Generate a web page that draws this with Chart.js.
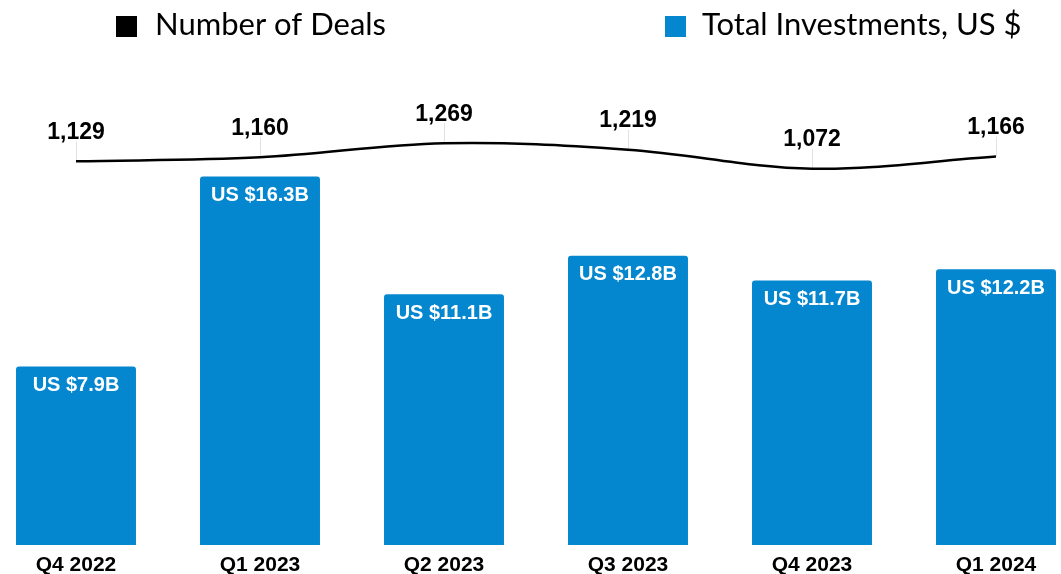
<!DOCTYPE html>
<html><head><meta charset="utf-8">
<script src="https://cdn.jsdelivr.net/npm/chart.js@4.4.1/dist/chart.umd.min.js"></script>
<style>html,body{margin:0;padding:0;background:#fff;overflow:hidden}
#wrap{position:relative;width:1061px;height:574px}</style>
</head><body><div id="wrap"><canvas id="c" width="1061" height="574"></canvas></div>
<script>
const categories = ['Q4 2022', 'Q1 2023', 'Q2 2023', 'Q3 2023', 'Q4 2023', 'Q1 2024'];
const investments = [7.9, 16.3, 11.1, 12.8, 11.7, 12.2];
const investmentLabels = ['US $7.9B', 'US $16.3B', 'US $11.1B', 'US $12.8B', 'US $11.7B', 'US $12.2B'];
const deals = [1129, 1160, 1269, 1219, 1072, 1166];
const dealLabels = ['1,129', '1,160', '1,269', '1,219', '1,072', '1,166'];
const legendLabels = ['Number of Deals', 'Total Investments, US $'];

const BLUE = '#0587D0';
const LABEL_FONT = '"Liberation Sans", Arial, sans-serif';
const LEGEND_FONT = 'Lato, "Noto Sans", sans-serif';

const labelPlugin = {
  id: 'labelPlugin',
  beforeDatasetsDraw(chart) {
    const ctx = chart.ctx;
    const lineMeta = chart.getDatasetMeta(1);
    ctx.save();
    ctx.strokeStyle = '#e2e2e2';
    ctx.lineWidth = 1;
    lineMeta.data.forEach(pt => {
      const x = Math.round(pt.x) + 0.5;
      ctx.beginPath();
      ctx.moveTo(x, pt.y - 20);
      ctx.lineTo(x, pt.y);
      ctx.stroke();
    });
    ctx.restore();
  },
  afterDatasetsDraw(chart) {
    const ctx = chart.ctx;
    const barMeta = chart.getDatasetMeta(0);
    const lineMeta = chart.getDatasetMeta(1);
    ctx.save();
    ctx.textAlign = 'center';
    ctx.textBaseline = 'middle';
    ctx.font = 'bold 20px ' + LABEL_FONT;
    ctx.fillStyle = '#ffffff';
    barMeta.data.forEach((bar, i) => {
      ctx.fillText(investmentLabels[i], bar.x, bar.y + 19);
    });
    ctx.font = 'bold 23px ' + LABEL_FONT;
    ctx.fillStyle = '#000000';
    lineMeta.data.forEach((pt, i) => {
      ctx.fillText(dealLabels[i], pt.x, pt.y - 29);
    });
    ctx.restore();
  },
  afterDraw(chart) {
    const ctx = chart.ctx;
    ctx.save();
    ctx.textAlign = 'left';
    ctx.textBaseline = 'alphabetic';
    ctx.font = '400 31px ' + LEGEND_FONT;
    ctx.fillStyle = '#000000';
    ctx.fillRect(116, 16, 21, 21);
    ctx.fillText(legendLabels[0], 155, 35);
    ctx.fillStyle = BLUE;
    ctx.fillRect(665, 16, 21, 21);
    ctx.fillStyle = '#000000';
    ctx.fillText(legendLabels[1], 702, 35);
    ctx.restore();
  }
};

new Chart(document.getElementById('c'), {
  data: {
    labels: categories,
    datasets: [
      {
        type: 'bar',
        label: legendLabels[1],
        data: investments,
        backgroundColor: BLUE,
        borderRadius: { topLeft: 3, topRight: 3, bottomLeft: 0, bottomRight: 0 },
        borderSkipped: 'bottom',
        categoryPercentage: 1,
        barPercentage: 0.652,
        yAxisID: 'y',
        clip: false,
        order: 1
      },
      {
        type: 'line',
        label: legendLabels[0],
        data: deals,
        borderColor: '#000000',
        borderWidth: 2.5,
        pointRadius: 0,
        pointHoverRadius: 0,
        tension: 0.35,
        fill: false,
        yAxisID: 'y2',
        clip: false,
        order: 0
      }
    ]
  },
  options: {
    responsive: false,
    animation: false,
    events: [],
    layout: { padding: { top: 60, left: 76, right: 65, bottom: 0 } },
    plugins: { legend: { display: false }, tooltip: { enabled: false }, title: { display: false } },
    scales: {
      x: {
        type: 'category',
        offset: false,
        grid: { display: false, drawTicks: false },
        border: { display: false },
        afterFit(scale) { scale.height = 29; },
        ticks: {
          color: '#000000',
          padding: 12,
          maxRotation: 0,
          autoSkip: false,
          font: { family: LABEL_FONT, size: 21, weight: 'bold', lineHeight: 0.8 }
        }
      },
      y: {
        display: false,
        min: 0,
        max: 21.46
      },
      y2: {
        display: false,
        min: -1845,
        max: 1914.6
      }
    }
  },
  plugins: [labelPlugin]
});
</script>
</body></html>
